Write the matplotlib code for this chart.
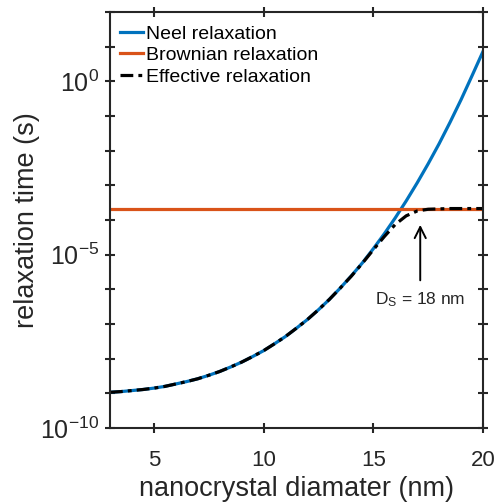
import matplotlib

matplotlib.use("Agg")
import matplotlib.pyplot as plt
import numpy as np
from matplotlib.ticker import FixedLocator, NullFormatter

plt.rcParams["font.family"] = ["Liberation Sans", "DejaVu Sans"]
plt.rcParams["mathtext.fontset"] = "custom"
plt.rcParams["mathtext.rm"] = "Liberation Sans"
plt.rcParams["mathtext.it"] = "Liberation Sans:italic"
plt.rcParams["axes.unicode_minus"] = False

# values (log10 of relaxation time in s)
diameter_nm = [3.0, 3.5, 4.0, 4.5, 5.0, 5.5, 6.0, 6.5, 7.0, 7.5, 8.0, 8.5,
               9.0, 9.5, 10.0, 10.5, 11.0, 11.5, 12.0, 12.5, 13.0, 13.5,
               14.0, 14.5, 15.0, 15.5, 16.0, 16.5, 17.0, 17.5, 18.0, 18.5,
               19.0, 19.5, 20.0]
log_neel = [-8.97, -8.95, -8.92, -8.89, -8.85, -8.80, -8.73, -8.66, -8.58,
            -8.48, -8.37, -8.24, -8.10, -7.94, -7.77, -7.57, -7.36, -7.12,
            -6.87, -6.59, -6.29, -5.96, -5.61, -5.24, -4.83, -4.40, -3.94,
            -3.45, -2.93, -2.38, -1.80, -1.18, -0.53, 0.16, 0.86]
log_brown = [-3.67] * len(diameter_nm)
log_eff = [-8.97, -8.95, -8.92, -8.89, -8.85, -8.80, -8.73, -8.66, -8.58,
           -8.48, -8.37, -8.24, -8.10, -7.94, -7.77, -7.57, -7.36, -7.12,
           -6.87, -6.59, -6.29, -5.96, -5.62, -5.25, -4.86, -4.48, -4.13,
           -3.88, -3.74, -3.69, -3.68, -3.67, -3.67, -3.67, -3.67]

d_s = 17.14
arrow_tail, arrow_tip = 10 ** -5.82, 10 ** -4.06

BLUE = "#0072BD"
ORANGE = "#D95319"
AXC = "#262626"

fig = plt.figure(figsize=(4.97, 5.04), dpi=100)
ax = fig.add_axes([0.2213, 0.1508, 0.7505, 0.8254])

x = np.array(diameter_nm)
ax.plot(x, 10 ** np.array(log_neel), color=BLUE, lw=2.3, label="Neel relaxation")
ax.plot(x, 10 ** np.array(log_brown), color=ORANGE, lw=2.3, label="Brownian relaxation")
ax.plot(x, 10 ** np.array(log_eff), color="black", lw=2.3,
        linestyle=(0, (4.0, 1.6, 1.2, 1.6)), label="Effective relaxation")

ax.set_yscale("log")
ax.set_xlim(3, 20)
ax.set_ylim(1e-10, 1e2)
ax.set_xticks([5, 10, 15, 20])
ax.yaxis.set_major_locator(FixedLocator([1e-10, 1e-5, 1e0]))
ax.yaxis.set_minor_locator(FixedLocator([10.0 ** k for k in range(-10, 3)]))
ax.yaxis.set_minor_formatter(NullFormatter())

for side in ax.spines.values():
    side.set_linewidth(1.5)
    side.set_color(AXC)
ax.tick_params(which="both", direction="inout", length=7.5, width=1.5,
               color=AXC, labelcolor=AXC, top=True, right=True)
ax.tick_params(axis="x", labelsize=16, pad=12)
ax.tick_params(axis="y", labelsize=18, pad=4)

ax.set_xlabel("nanocrystal diamater (nm)", fontsize=19.5, color=AXC, labelpad=4)
ax.set_ylabel("relaxation time (s)", fontsize=19.5, color=AXC, labelpad=0)

ax.legend(loc="upper left", bbox_to_anchor=(-0.011, 1.004), frameon=False,
          fontsize=14, handlelength=1.15, handletextpad=0.15,
          borderaxespad=0.3, labelspacing=0.2, borderpad=0.45)

ax.annotate("", xy=(d_s, arrow_tip), xytext=(d_s, arrow_tail),
            arrowprops={"arrowstyle": "->,head_length=0.8,head_width=0.4",
                        "color": "black", "lw": 1.4})
ax.text(d_s, 10 ** -6.3, "D$_\\mathrm{S}$ = 18 nm", ha="center", va="center",
        fontsize=12.5, color=AXC)

fig.savefig("out.png", dpi=100)
